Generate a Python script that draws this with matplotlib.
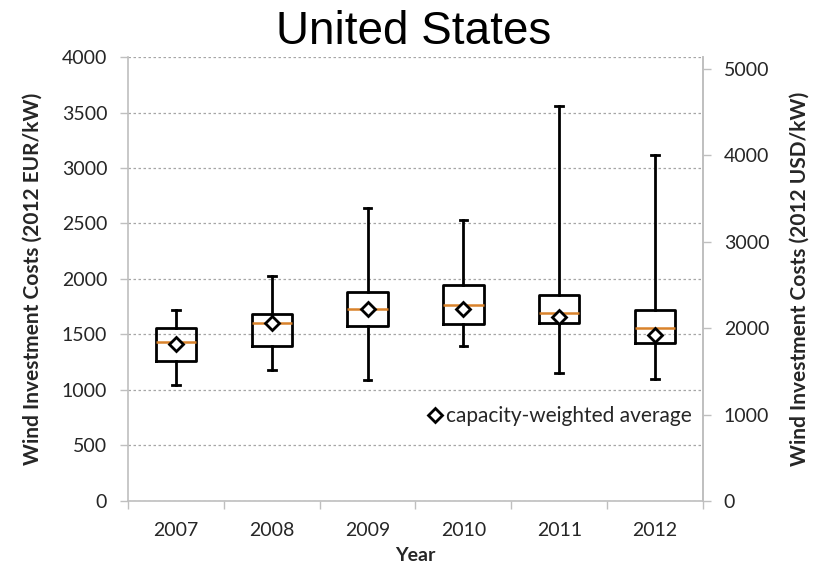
import matplotlib
matplotlib.use("Agg")
import matplotlib.pyplot as plt
from matplotlib.ticker import FixedLocator, MultipleLocator
from matplotlib.lines import Line2D

# ---- data (2012 EUR/kW) ----
years = ["2007", "2008", "2009", "2010", "2011", "2012"]
whisker_low = [1045, 1180, 1090, 1396, 1156, 1096]
q1 = [1264, 1399, 1580, 1592, 1601, 1421]
median = [1435, 1601, 1727, 1766, 1691, 1556]
q3 = [1556, 1685, 1880, 1943, 1856, 1721]
whisker_high = [1721, 2027, 2637, 2529, 3562, 3114]
weighted_avg = [1414, 1606, 1730, 1730, 1655, 1495]
eur_to_usd = 1.285

plt.rcParams['font.family'] = ['Lato', 'DejaVu Sans']

fig = plt.figure(figsize=(8.28, 5.73), dpi=100)
ax = fig.add_axes([0.1546, 0.1257, 0.849 - 0.1546, 0.9005 - 0.1257])

stats = []
for i, y in enumerate(years):
    stats.append(dict(label=y, whislo=whisker_low[i], q1=q1[i], med=median[i],
                      q3=q3[i], whishi=whisker_high[i], fliers=[]))
positions = list(range(1, len(years) + 1))
ax.bxp(stats, positions=positions, widths=0.42, showfliers=False,
       boxprops=dict(color='black', linewidth=2),
       whiskerprops=dict(color='black', linewidth=2),
       capprops=dict(color='black', linewidth=2),
       medianprops=dict(color='#D9822B', linewidth=1.8),
       capwidths=0.08, zorder=3)
ax.plot(positions, weighted_avg, linestyle='none', marker='D', markersize=7.5,
        markerfacecolor='white', markeredgecolor='black', markeredgewidth=2,
        zorder=4)

ax.set_xlim(0.5, len(years) + 0.5)
ax.set_ylim(0, 4000)
ax.yaxis.set_major_locator(MultipleLocator(500))
ax.grid(axis='y', linestyle=(0, (2, 2)), color='#a6a6a6', linewidth=0.9, zorder=0)
ax.set_axisbelow(True)

ax.set_xticks(positions)
ax.set_xticklabels(years)
ax.xaxis.set_minor_locator(FixedLocator([p + 0.5 for p in [0] + positions]))
ax.tick_params(axis='x', which='major', length=0, pad=15, labelsize=14, colors='#262626')
ax.tick_params(axis='x', which='minor', length=6, color='#bfbfbf', width=1)
ax.tick_params(axis='y', length=6, color='#bfbfbf', width=1, labelsize=14,
               labelcolor='#262626', pad=9)

for s in ['top']:
    ax.spines[s].set_visible(False)
for s in ['left', 'bottom', 'right']:
    ax.spines[s].set_color('#bfbfbf')
    ax.spines[s].set_linewidth(1.2)

ax2 = ax.twinx()
ax2.set_ylim(0, 4000 * eur_to_usd)
ax2.yaxis.set_major_locator(MultipleLocator(1000))
ax2.tick_params(axis='y', length=6, color='#bfbfbf', width=1, labelsize=14,
                labelcolor='#262626', pad=9)
for s in ['top', 'left', 'bottom']:
    ax2.spines[s].set_visible(False)
ax2.spines['right'].set_color('#bfbfbf')
ax2.spines['right'].set_linewidth(1.2)

ax.set_ylabel("Wind Investment Costs (2012 EUR/kW)", fontsize=15, fontweight='bold',
              color='#262626', labelpad=14)
ax2.set_ylabel("Wind Investment Costs (2012 USD/kW)", fontsize=15, fontweight='bold',
               color='#262626', labelpad=15)
ax.set_xlabel("Year", fontsize=14, fontweight='bold', color='#262626', labelpad=6)

fig.suptitle("United States", fontsize=33, family=['Liberation Sans', 'DejaVu Sans'],
             y=0.983, va='top')

handle = Line2D([], [], linestyle='none', marker='D', markersize=7.5,
                markerfacecolor='white', markeredgecolor='black', markeredgewidth=2)
ax.legend([handle], ["capacity-weighted average"], loc='lower right',
          bbox_to_anchor=(0.995, 0.15), frameon=False, fontsize=15,
          handletextpad=0.1, borderaxespad=0, handlelength=0.9,
          labelcolor='#262626')

fig.savefig("out.png", dpi=100)
